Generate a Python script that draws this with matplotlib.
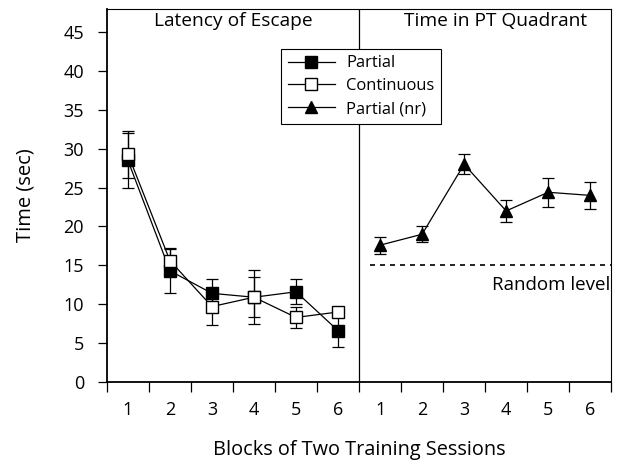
import matplotlib
matplotlib.use("Agg")
import matplotlib.pyplot as plt
from matplotlib.lines import Line2D
import numpy as np

plt.rcParams['font.family'] = ['Open Sans', 'DejaVu Sans']

# ---- data ----
blocks = [1, 2, 3, 4, 5, 6]
partial = [28.5, 14.3, 11.4, 10.9, 11.6, 6.6]
partial_err = [3.5, 2.9, 1.8, 3.5, 1.6, 2.1]
continuous = [29.3, 15.6, 9.7, 10.9, 8.3, 9.0]
continuous_err = [3.0, 1.5, 2.4, 2.6, 1.4, 0.4]
partial_nr = [17.6, 19.0, 28.0, 22.0, 24.4, 24.0]
partial_nr_err = [1.1, 1.0, 1.3, 1.4, 1.9, 1.75]
random_level = 15
yticks = [0, 5, 10, 15, 20, 25, 30, 35, 40, 45]

x_left = np.arange(len(blocks)) + 0.5
x_right = x_left + len(blocks)

fig = plt.figure(figsize=(6.18, 4.63), dpi=100)
ax = fig.add_axes([0.173, 0.175, 0.816, 0.806])

eb = dict(color='black', lw=0.9, elinewidth=0.9, capsize=4.5, capthick=0.9)
ax.errorbar(x_left, partial, yerr=partial_err, marker='s', ms=8,
            mfc='black', mec='black', **eb)
ax.errorbar(x_left, continuous, yerr=continuous_err, marker='s', ms=8,
            mfc='white', mec='black', **eb)
ax.errorbar(x_right, partial_nr, yerr=partial_nr_err, marker='^', ms=9,
            mfc='black', mec='black', **eb)

ax.plot([6.25, 12], [random_level, random_level], color='black', lw=1.2,
        ls=(0, (3, 3)))
ax.text(12 - 0.03, random_level - 2.5, 'Random level', ha='right', va='center',
        fontsize=13.5)

ax.axvline(len(blocks), color='black', lw=0.9, zorder=1)

ax.text(3, 46.4, 'Latency of Escape', ha='center', va='center', fontsize=13.8)
ax.text(9.25, 46.4, 'Time in PT Quadrant', ha='center', va='center', fontsize=13.8)

ax.set_xlim(0, 12)
ax.set_ylim(0, 48)
ax.set_yticks(yticks)
ax.set_xticks(np.arange(0, 13))
ax.set_xticklabels([])
ax.set_xticks(np.concatenate([x_left, x_right]), minor=True)
ax.set_xticklabels(blocks + blocks, minor=True)
ax.tick_params(axis='x', which='minor', length=0, pad=14, labelsize=13)
ax.tick_params(axis='x', which='major', length=7, width=0.9, direction='out')
ax.tick_params(axis='y', length=6.5, width=0.9, direction='out', labelsize=13, pad=10)

for s in ['left', 'bottom']:
    ax.spines[s].set_linewidth(1.3)
for s in ['top', 'right']:
    ax.spines[s].set_linewidth(0.8)

ax.set_ylabel('Time (sec)', fontsize=14.5, labelpad=20)
ax.set_xlabel('Blocks of Two Training Sessions', fontsize=14.3, labelpad=15)

handles = [
    Line2D([], [], color='black', lw=0.9, marker='s', ms=8, mfc='black', mec='black'),
    Line2D([], [], color='black', lw=0.9, marker='s', ms=8, mfc='white', mec='black'),
    Line2D([], [], color='black', lw=0.9, marker='^', ms=9, mfc='black', mec='black'),
]
leg = ax.legend(handles, ['Partial', 'Continuous', 'Partial (nr)'],
                loc='upper left', bbox_to_anchor=(0.345, 0.893), fontsize=11.9,
                frameon=True, fancybox=False, edgecolor='black', framealpha=1,
                handlelength=2.9, borderpad=0.4, labelspacing=0.42,
                handletextpad=0.65, borderaxespad=0)
leg.get_frame().set_linewidth(0.8)
leg.set_zorder(5)

fig.savefig('out.png', dpi=100)
